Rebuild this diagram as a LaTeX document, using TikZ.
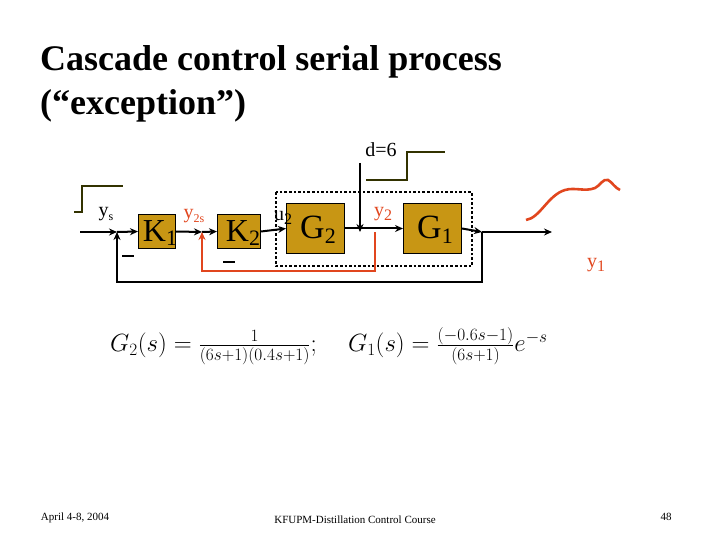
\documentclass[tikz,border=0pt]{standalone}
\usepackage{fontspec}
\setmainfont{Liberation Serif}
\usetikzlibrary{arrows.meta}
\definecolor{gold}{RGB}{200,150,20}
\definecolor{olive}{RGB}{50,50,0}
\definecolor{rd}{RGB}{225,70,30}
\begin{document}
\begin{tikzpicture}[x=1pt,y=-1pt,
  blk/.style={draw,fill=gold,line width=1pt,inner sep=0pt,anchor=north west},
  sig/.style={line width=2pt,-{Stealth[length=8pt,width=7pt]}},
  lbl/.style={font=\fontsize{20}{20}\selectfont,inner sep=0pt}]
\useasboundingbox (0,0) rectangle (720,540);
\node[anchor=west,font=\bfseries\fontsize{36}{36}\selectfont,inner sep=0pt] (t1) at (40,62) {Cascade control serial process};
\node[anchor=west,font=\bfseries\fontsize{36}{36}\selectfont,inner sep=0pt] (t2) at (40,106) {(“exception”)};
% dashed box
\draw[line width=2.6pt,dotted] (276,192) rectangle (472,266);
% blocks
\node[blk,minimum width=37pt,minimum height=34pt] (K1) at (138,214) {};
\node[font=\fontsize{32}{32}\selectfont,inner sep=0pt] (k1t) at (160,233) {K\raisebox{-0.3ex}{\fontsize{22}{22}\selectfont 1}};
\node[blk,minimum width=43pt,minimum height=34pt] (K2) at (217,214) {};
\node[font=\fontsize{32}{32}\selectfont,inner sep=0pt] (k2t) at (243,233) {K\raisebox{-0.3ex}{\fontsize{22}{22}\selectfont 2}};
\node[blk,minimum width=58pt,minimum height=50pt] (G2) at (286,203) {};
\node[font=\fontsize{34}{34}\selectfont,inner sep=0pt] (g2t) at (318,230) {G\raisebox{-0.3ex}{\fontsize{22}{22}\selectfont 2}};
\node[blk,minimum width=58pt,minimum height=50pt] (G1) at (403,203) {};
\node[font=\fontsize{34}{34}\selectfont,inner sep=0pt] (g1t) at (435,230) {G\raisebox{-0.3ex}{\fontsize{22}{22}\selectfont 1}};
% coordinates
\coordinate (in) at (80,232);
\coordinate (s1) at (117,232);
\coordinate (s2) at (202,232);
\coordinate (dj) at (360,232);
\coordinate (tap) at (375,232);
\coordinate (br) at (482,232);
\coordinate (out) at (552,232);
\coordinate (dtop) at (360,163);
% main line
\draw[sig] (in) -- (s1);
\draw[sig] (s1) -- (K1.west);
\draw[sig] (K1.east) -- (s2);
\draw[sig] (s2) -- (K2.west);
\draw[sig] (K2.east) -- (G2.west);
\draw[sig] (G2.east) -- (G1.west);
\draw[sig] (G1.east) -- (br);
\draw[sig] (br) -- (out);
\draw[sig] (dtop) -- (dj);
\draw[sig,line width=1.4pt] (br) -- (482,282) -- (117,282) -- (s1);
\draw[sig,rd,line width=2.4pt] (tap) -- (375,271) -- (202,271) -- (s2);
% labels
\node[lbl] (ys) at (106,214) {y\raisebox{-0.4ex}{\fontsize{12}{12}\selectfont s}};
\node[lbl,text=rd] (y2s) at (194,216) {y\raisebox{-0.4ex}{\fontsize{12}{12}\selectfont 2s}};
\node[lbl] (u2) at (283,218) {u\raisebox{-0.4ex}{\fontsize{16}{16}\selectfont 2}};
\node[lbl,text=rd] (y2) at (383,214) {y\raisebox{-0.4ex}{\fontsize{16}{16}\selectfont 2}};
\node[lbl,text=rd] (y1) at (596,265) {y\raisebox{-0.4ex}{\fontsize{16}{16}\selectfont 1}};
\node[lbl] (d) at (381,150) {d=6};
\draw[line width=2.5pt] (122,256) -- (134,256);
\draw[line width=2.5pt] (223,262) -- (235,262);
% steps
\draw[olive,line width=2.6pt] (74,212) -- (82,212) -- (82,186) -- (123,186);
\draw[olive,line width=2.6pt] (366,180) -- (407,180) -- (407,152) -- (445,152);
\draw[rd,line width=2.6pt] (526,220) .. controls (540,218) and (548,195) .. (565,190)
  .. controls (575,187) and (585,192) .. (595,188) .. controls (600,186) and (603,178) .. (608,180)
  .. controls (612,182) and (615,188) .. (620,190);
% equation
\node[anchor=west,inner sep=0pt,font=\fontsize{27}{27}\selectfont] (eq) at (110,346)
 {$G_2(s) = \frac{1}{(6s+1)(0.4s+1)};\quad G_1(s) = \frac{(-0.6s-1)}{(6s+1)}e^{-s}$};
% footer
\node[font=\fontsize{11}{11}\selectfont,inner sep=0pt] (f1) at (75,518) {April 4-8, 2004};
\node[font=\fontsize{11}{11}\selectfont,inner sep=0pt] (f2) at (355,520) {KFUPM-Distillation Control Course};
\node[font=\fontsize{11}{11}\selectfont,inner sep=0pt] (f3) at (666,517) {48};
\end{tikzpicture}
\end{document}
